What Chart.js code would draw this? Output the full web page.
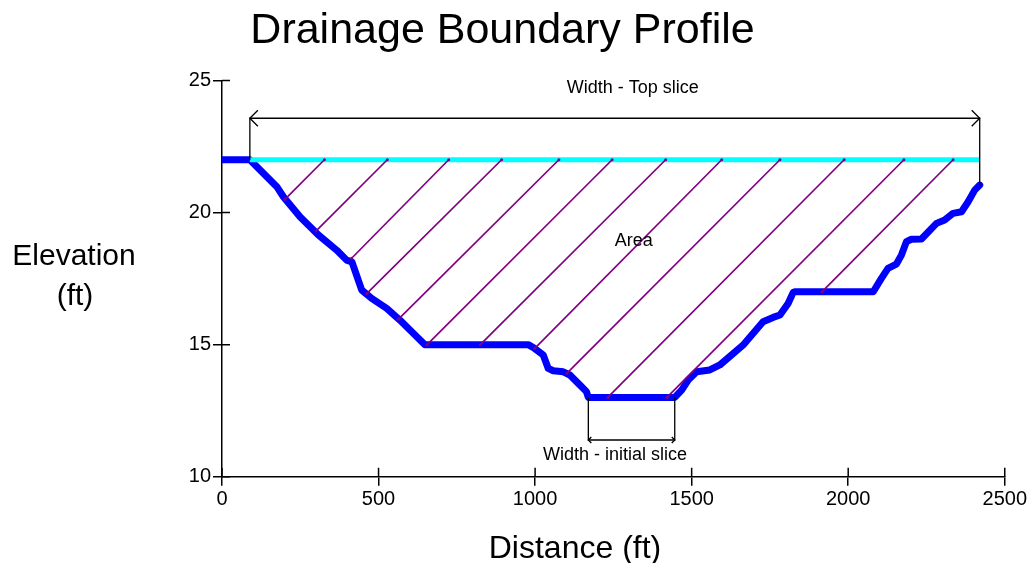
<!DOCTYPE html>
<html>
<head>
<meta charset="utf-8">
<title>Drainage Boundary Profile</title>
<script src="https://cdn.jsdelivr.net/npm/chart.js@4/dist/chart.umd.min.js"></script>
<style>
  html, body { margin: 0; padding: 0; background: #ffffff; }
  #wrap { width: 1029px; height: 563px; }
</style>
</head>
<body>
<div id="wrap"><canvas id="chart" width="1029" height="563"></canvas></div>
<script>
// Ground profile along the section (distance ft, elevation ft)
const profileDistance = [0, 89, 175, 196, 249, 308, 366, 398, 415, 446, 478, 526, 568, 648, 978, 998, 1026, 1042, 1058, 1090,
  1111, 1143, 1164, 1170, 1446, 1468, 1489, 1516, 1558, 1590, 1664, 1728, 1760, 1782, 1808, 1824, 1830, 2080, 2106, 2127,
  2154, 2170, 2186, 2202, 2234, 2282, 2308, 2335, 2362, 2383, 2404, 2420];
const profileElevation = [22, 22, 20.98, 20.6, 19.84, 19.15, 18.58, 18.2, 18.13, 17.07, 16.75, 16.37, 15.93, 15, 15, 14.86, 14.61, 14.1, 14.01, 13.97,
  13.85, 13.47, 13.22, 13, 13, 13.28, 13.66, 13.97, 14.04, 14.23, 14.98, 15.87, 16.03, 16.12, 16.56, 16.97, 17, 17, 17.51, 17.89,
  18.05, 18.39, 18.9, 18.99, 19, 19.59, 19.72, 19.97, 20.03, 20.41, 20.85, 21.04];

// Water surface of the top slice
const surfaceDistance = [89, 2420];
const surfaceElevation = [22, 22];

// Area hatching: each stroke runs from the surface down to the ground
const hatchTopDistance = [327, 528, 724, 893, 1076, 1246, 1417, 1596, 1782, 1987, 2178, 2335];
const hatchBottomDistance = [201, 300, 414, 463, 563, 655, 825, 999, 1102, 1232, 1421, 1916];
const hatchBottomElevation = [20.5, 19.3, 18.27, 16.94, 15.96, 15, 15, 14.86, 13.92, 13, 13, 17];

// Dimension brackets: [left end, right end] distances, base elevations and the dimension line level
const topSliceDistance = [89, 2420];
const topSliceBase = [22, 21.04];
const topSliceLevel = 23.57;
const initialSliceDistance = [1170, 1446];
const initialSliceBase = [13, 13];
const initialSliceLevel = 11.39;

// Text labels placed in data units
const noteText = ['Width - Top slice', 'Area', 'Width - initial slice'];
const noteDistance = [1312, 1315, 1255];
const noteElevation = [24.72, 18.93, 10.82];

// Axis ticks
const xTicks = [0, 500, 1000, 1500, 2000, 2500];
const yTicks = [10, 15, 20, 25];

const FONT = '"Liberation Sans", Arial, Helvetica, sans-serif';
const pts = (xs, ys) => xs.map((x, i) => ({ x: x, y: ys[i] }));

const datasets = [];
// hatch strokes (first = drawn on top)
hatchTopDistance.forEach((xt, i) => {
  datasets.push({
    data: [{ x: xt, y: surfaceElevation[0] }, { x: hatchBottomDistance[i], y: hatchBottomElevation[i] }],
    borderColor: '#800080', borderWidth: 1.7,
    pointRadius: 1.5, pointBorderWidth: 0, pointBackgroundColor: '#800080'
  });
});
// dimension brackets
datasets.push({
  data: [{ x: topSliceDistance[0], y: topSliceBase[0] }, { x: topSliceDistance[0], y: topSliceLevel },
         { x: topSliceDistance[1], y: topSliceLevel }, { x: topSliceDistance[1], y: topSliceBase[1] }],
  borderColor: '#000000', borderWidth: 1.3, pointRadius: 0
});
datasets.push({
  data: [{ x: initialSliceDistance[0], y: initialSliceBase[0] }, { x: initialSliceDistance[0], y: initialSliceLevel },
         { x: initialSliceDistance[1], y: initialSliceLevel }, { x: initialSliceDistance[1], y: initialSliceBase[1] }],
  borderColor: '#000000', borderWidth: 1.3, pointRadius: 0
});
// water surface
datasets.push({
  data: pts(surfaceDistance, surfaceElevation),
  borderColor: '#00ffff', borderWidth: 5, pointRadius: 0
});
// ground profile
datasets.push({
  data: pts(profileDistance, profileElevation),
  borderColor: '#0000ff', borderWidth: 7, pointRadius: 0,
  borderJoinStyle: 'round', borderCapStyle: 'round'
});

// Extra drawing: inner tick halves, arrowheads, notes and axis names
const extras = {
  id: 'extras',
  afterDatasetsDraw(chart) {
    const { ctx, chartArea, scales: { x, y } } = chart;
    ctx.save();
    ctx.strokeStyle = '#000';
    ctx.lineWidth = 1.5;
    ctx.beginPath();
    xTicks.forEach(v => {
      const px = x.getPixelForValue(v);
      ctx.moveTo(px, chartArea.bottom);
      ctx.lineTo(px, chartArea.bottom - 9);
    });
    yTicks.forEach(v => {
      const py = y.getPixelForValue(v);
      ctx.moveTo(chartArea.left, py);
      ctx.lineTo(chartArea.left + 8, py);
    });
    ctx.stroke();

    // open arrowheads on the dimension lines
    const arrow = (xv, yv, dir, size) => {
      const px = x.getPixelForValue(xv), py = y.getPixelForValue(yv);
      ctx.moveTo(px + dir * size, py - size);
      ctx.lineTo(px, py);
      ctx.lineTo(px + dir * size, py + size);
    };
    ctx.lineWidth = 1.3;
    ctx.beginPath();
    arrow(topSliceDistance[0], topSliceLevel, 1, 8);
    arrow(topSliceDistance[1], topSliceLevel, -1, 8);
    arrow(initialSliceDistance[0], initialSliceLevel, 1, 3);
    arrow(initialSliceDistance[1], initialSliceLevel, -1, 3);
    ctx.stroke();

    // notes
    ctx.fillStyle = '#000';
    ctx.font = '18px ' + FONT;
    ctx.textAlign = 'center';
    ctx.textBaseline = 'middle';
    noteText.forEach((t, i) => {
      ctx.fillText(t, x.getPixelForValue(noteDistance[i]), y.getPixelForValue(noteElevation[i]));
    });

    // axis names
    ctx.font = '30px ' + FONT;
    ctx.fillText('Elevation', 74, 257);
    ctx.fillText('(ft)', 75, 297);
    ctx.font = '32px ' + FONT;
    ctx.fillText('Distance (ft)', 575, 549);
    ctx.restore();
  }
};

const tickFont = { family: FONT, size: 20 };
const plainTick = v => String(v);

new Chart(document.getElementById('chart'), {
  type: 'line',
  data: { datasets: datasets },
  plugins: [extras],
  options: {
    responsive: false,
    animation: false,
    devicePixelRatio: 1,
    layout: { padding: { left: 0, right: 24, top: 0, bottom: 0 } },
    plugins: {
      legend: { display: false },
      tooltip: { enabled: false },
      title: {
        display: true,
        text: 'Drainage Boundary Profile',
        color: '#000',
        font: { family: FONT, size: 43, weight: 'normal', lineHeight: 1.2 },
        padding: { top: 5, bottom: 23.9 }
      }
    },
    scales: {
      x: {
        type: 'linear',
        min: xTicks[0], max: xTicks[xTicks.length - 1],
        ticks: { stepSize: xTicks[1] - xTicks[0], color: '#000', font: tickFont, padding: 2, maxRotation: 0, autoSkip: false, callback: plainTick },
        grid: { drawOnChartArea: false, drawTicks: true, tickLength: 9, color: '#000', lineWidth: 1.5 },
        border: { color: '#000', width: 1.5 },
        afterFit: s => { s.height = 86.3; }
      },
      y: {
        type: 'linear',
        min: yTicks[0], max: yTicks[yTicks.length - 1],
        ticks: { stepSize: yTicks[1] - yTicks[0], color: '#000', font: tickFont, padding: 2, callback: plainTick },
        grid: { drawOnChartArea: false, drawTicks: true, tickLength: 9, color: '#000', lineWidth: 1.5 },
        border: { color: '#000', width: 1.5 },
        afterFit: s => { s.width = 222; }
      }
    }
  }
});
</script>
</body>
</html>
